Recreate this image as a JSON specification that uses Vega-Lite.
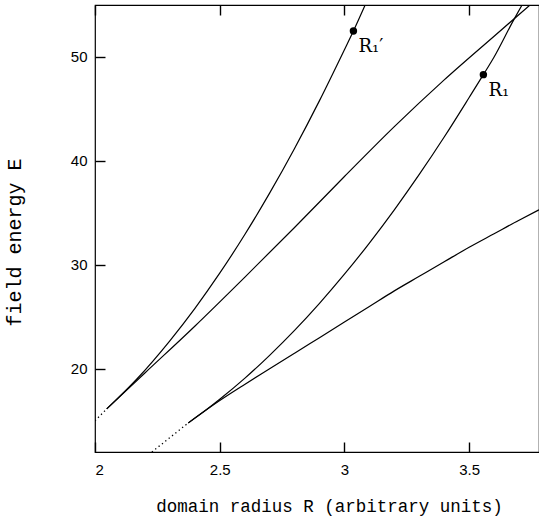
{
  "$schema": "https://vega.github.io/schema/vega-lite/v6.json",
  "width": 444,
  "height": 447,
  "autosize": {"type": "none"},
  "padding": {"left": 95, "top": 5, "right": 0, "bottom": 64},
  "config": {
    "view": {"stroke": "black", "strokeWidth": 1.2},
    "axis": {
      "grid": false,
      "labelColor": "black",
      "titleColor": "black",
      "labelFont": "Liberation Sans",
      "labelFontSize": 15,
      "titleFont": "Liberation Mono",
      "titleFontWeight": "normal"
    }
  },
  "datasets": {
    "solid": [
      {"curve": "A", "R": 2.047, "E": 16.15},
      {"curve": "A", "R": 2.167, "E": 19.0},
      {"curve": "A", "R": 2.3, "E": 22.7},
      {"curve": "A", "R": 2.4, "E": 25.8},
      {"curve": "A", "R": 2.5, "E": 29.2},
      {"curve": "A", "R": 2.6, "E": 32.9},
      {"curve": "A", "R": 2.7, "E": 36.9},
      {"curve": "A", "R": 2.8, "E": 41.2},
      {"curve": "A", "R": 2.9, "E": 45.8},
      {"curve": "A", "R": 3.0, "E": 50.7},
      {"curve": "A", "R": 3.036, "E": 52.5},
      {"curve": "A", "R": 3.083, "E": 55.0},
      {"curve": "B", "R": 2.047, "E": 16.15},
      {"curve": "B", "R": 2.2, "E": 19.6},
      {"curve": "B", "R": 2.4, "E": 24.1},
      {"curve": "B", "R": 2.6, "E": 28.8},
      {"curve": "B", "R": 2.8, "E": 33.6},
      {"curve": "B", "R": 3.0, "E": 38.5},
      {"curve": "B", "R": 3.2, "E": 43.3},
      {"curve": "B", "R": 3.4, "E": 47.8},
      {"curve": "B", "R": 3.6, "E": 52.0},
      {"curve": "B", "R": 3.744, "E": 55.0},
      {"curve": "C", "R": 2.374, "E": 14.8},
      {"curve": "C", "R": 2.45, "E": 16.13},
      {"curve": "C", "R": 2.5, "E": 17.07},
      {"curve": "C", "R": 2.6, "E": 19.08},
      {"curve": "C", "R": 2.7, "E": 21.3},
      {"curve": "C", "R": 2.8, "E": 23.7},
      {"curve": "C", "R": 2.9, "E": 26.3},
      {"curve": "C", "R": 3.0, "E": 29.1},
      {"curve": "C", "R": 3.1, "E": 32.1},
      {"curve": "C", "R": 3.2, "E": 35.3},
      {"curve": "C", "R": 3.3, "E": 38.7},
      {"curve": "C", "R": 3.4, "E": 42.3},
      {"curve": "C", "R": 3.5, "E": 46.1},
      {"curve": "C", "R": 3.557, "E": 48.3},
      {"curve": "C", "R": 3.6, "E": 50.0},
      {"curve": "C", "R": 3.677, "E": 53.5},
      {"curve": "C", "R": 3.712, "E": 55.0},
      {"curve": "D", "R": 2.374, "E": 14.8},
      {"curve": "D", "R": 2.5, "E": 16.95},
      {"curve": "D", "R": 2.6, "E": 18.5},
      {"curve": "D", "R": 2.7, "E": 20.0},
      {"curve": "D", "R": 2.8, "E": 21.5},
      {"curve": "D", "R": 2.9, "E": 23.0},
      {"curve": "D", "R": 3.0, "E": 24.5},
      {"curve": "D", "R": 3.1, "E": 26.0},
      {"curve": "D", "R": 3.2, "E": 27.5},
      {"curve": "D", "R": 3.3, "E": 28.9},
      {"curve": "D", "R": 3.4, "E": 30.3},
      {"curve": "D", "R": 3.5, "E": 31.7},
      {"curve": "D", "R": 3.6, "E": 33.0},
      {"curve": "D", "R": 3.7, "E": 34.3},
      {"curve": "D", "R": 3.78, "E": 35.3}
    ],
    "dotted": [
      {"curve": "U", "R": 2.0, "E": 15.0},
      {"curve": "U", "R": 2.047, "E": 16.15},
      {"curve": "L", "R": 2.228, "E": 12.0},
      {"curve": "L", "R": 2.374, "E": 14.8}
    ],
    "dots": [
      {"name": "R₁′", "R": 3.036, "E": 52.5},
      {"name": "R₁", "R": 3.557, "E": 48.3}
    ]
  },
  "layer": [
    {
      "data": {"name": "solid"},
      "mark": {"type": "line", "color": "black", "strokeWidth": 1.2, "interpolate": "monotone", "clip": true},
      "encoding": {
        "x": {"field": "R", "type": "quantitative", "scale": {"domain": [2, 3.78], "nice": false, "zero": false},
          "axis": {"orient": "bottom", "values": [2, 2.5, 3, 3.5], "format": "~g", "domain": false, "ticks": true, "tickColor": "black", "tickWidth": 1.4, "offset": -10, "tickSize": 10, "labelPadding": 10,
            "title": "domain radius R (arbitrary units)", "titleFontSize": 17.5, "titleX": 234, "titleY": 69, "titleAlign": "center", "titleBaseline": "alphabetic"}},
        "y": {"field": "E", "type": "quantitative", "scale": {"domain": [12, 55], "nice": false, "zero": false},
          "axis": {"orient": "left", "values": [20, 30, 40, 50], "format": "d", "domain": false, "ticks": true, "tickColor": "black", "tickWidth": 1.4, "offset": -10, "tickSize": 10, "labelPadding": 8,
            "title": "field energy E", "titleFontSize": 20, "titleX": -85, "titleY": 237, "titleAngle": -90, "titleAlign": "center", "titleBaseline": "alphabetic"}},
        "detail": {"field": "curve"}
      }
    },
    {
      "data": {"name": "dotted"},
      "mark": {"type": "line", "color": "black", "strokeWidth": 1.3, "strokeDash": [1.3, 3], "clip": true},
      "encoding": {
        "x": {"field": "R", "type": "quantitative", "scale": {"domain": [2, 3.78], "nice": false, "zero": false},
          "axis": {"orient": "top", "values": [2, 2.5, 3, 3.5], "labels": false, "domain": false, "ticks": true, "tickColor": "black", "tickWidth": 1.4, "tickSize": -10, "title": null}},
        "y": {"field": "E", "type": "quantitative", "scale": {"domain": [12, 55], "nice": false, "zero": false}, "axis": null},
        "detail": {"field": "curve"}
      }
    },
    {
      "data": {"name": "dots"},
      "mark": {"type": "point", "filled": true, "color": "black", "size": 55, "opacity": 1},
      "encoding": {
        "x": {"field": "R", "type": "quantitative", "scale": {"domain": [2, 3.78], "nice": false, "zero": false}, "axis": null},
        "y": {"field": "E", "type": "quantitative", "scale": {"domain": [12, 55], "nice": false, "zero": false}, "axis": null}
      }
    },
    {
      "data": {"name": "dots"},
      "mark": {"type": "text", "color": "black", "font": "DejaVu Serif", "fontSize": 18, "align": "left", "baseline": "alphabetic", "dx": 5, "dy": 21},
      "encoding": {
        "x": {"field": "R", "type": "quantitative", "scale": {"domain": [2, 3.78], "nice": false, "zero": false}, "axis": null},
        "y": {"field": "E", "type": "quantitative", "scale": {"domain": [12, 55], "nice": false, "zero": false}, "axis": null},
        "text": {"field": "name"}
      }
    }
  ],
  "resolve": {"scale": {"x": "independent", "y": "independent"}, "axis": {"x": "independent", "y": "independent"}}
}
